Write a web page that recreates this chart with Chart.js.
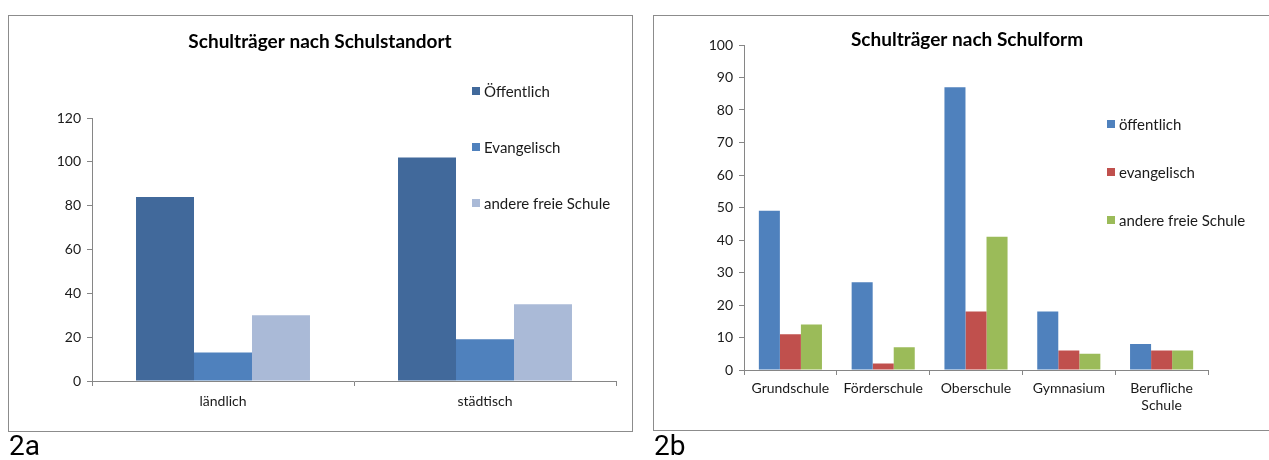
<!DOCTYPE html>
<html lang="de">
<head>
<meta charset="utf-8">
<title>Schulträger</title>
<script src="https://cdn.jsdelivr.net/npm/chart.js@4/dist/chart.umd.min.js"></script>
<style>
  html, body { margin: 0; padding: 0; background: #fff; overflow: hidden; }
  body { width: 1269px; height: 460px; position: relative; font-family: Lato, "Open Sans", sans-serif; }
  .panel { position: absolute; border: 1px solid #8c8c8c; background: #fff; }
  #panelA { left: 8px; top: 15px; width: 623px; height: 415px; }
  #panelB { left: 653px; top: 15px; width: 640px; height: 414px; }
  .panel canvas { position: absolute; left: 0; top: 0; }
  .tag { position: absolute; top: 430px; font-family: Roboto, sans-serif; font-size: 28px; color: #000; line-height: 32px; }
  #tagA { left: 9px; }
  #tagB { left: 654px; }
</style>
</head>
<body>
<div class="panel" id="panelA"><canvas id="chartA" width="623" height="415"></canvas></div>
<div class="panel" id="panelB"><canvas id="chartB" width="615" height="414"></canvas></div>
<div class="tag" id="tagA">2a</div>
<div class="tag" id="tagB">2b</div>
<script>
// Schulträger nach Schulstandort
const standortKategorien = ['ländlich', 'städtisch'];
const standortOeffentlich = [84, 102];
const standortEvangelisch = [13, 19];
const standortAndere = [30, 35];
const standortTicks = [0, 20, 40, 60, 80, 100, 120];

// Schulträger nach Schulform
const formKategorien = ['Grundschule', 'Förderschule', 'Oberschule', 'Gymnasium', ['Berufliche', 'Schule']];
const formOeffentlich = [49, 27, 87, 18, 8];
const formEvangelisch = [11, 2, 18, 6, 6];
const formAndere = [14, 7, 41, 5, 6];
const formTicks = [0, 10, 20, 30, 40, 50, 60, 70, 80, 90, 100];

const FONT = 'Lato, "Open Sans", sans-serif';
const AXIS = '#868686';
const TEXT = '#1a1a1a';

// Title and legend drawn on top of the plot, like an office chart overlay
const overlayPlugin = {
  id: 'overlay',
  afterDraw(chart, args, opts) {
    const ctx = chart.ctx;
    ctx.save();
    ctx.fillStyle = '#000';
    ctx.font = 'bold ' + opts.titleSize + 'px ' + FONT;
    ctx.textAlign = 'center';
    ctx.textBaseline = 'middle';
    ctx.fillText(opts.title, opts.titleX, opts.titleY);
    ctx.font = opts.legendSize + 'px ' + FONT;
    ctx.textAlign = 'left';
    chart.data.datasets.forEach((ds, i) => {
      const y = opts.legendY + i * opts.legendGap;
      ctx.fillStyle = ds.backgroundColor;
      ctx.fillRect(opts.legendX, y - 4, 8, 8);
      ctx.fillStyle = TEXT;
      ctx.fillText(ds.label, opts.legendX + 12, y + 1);
    });
    ctx.restore();
  }
};

function axisOptions(tickValues, yWidth, xHeight, xPad) {
  return {
    x: {
      grid: { display: true, drawOnChartArea: false, drawTicks: true, tickLength: 5, color: AXIS, offset: true },
      border: { display: true, color: AXIS, width: 1 },
      ticks: { color: TEXT, font: { family: FONT, size: 14 }, padding: xPad, maxRotation: 0, autoSkip: false },
      afterFit: s => { s.height = xHeight; }
    },
    y: {
      min: tickValues[0],
      max: tickValues[tickValues.length - 1],
      afterBuildTicks: s => { s.ticks = tickValues.map(v => ({ value: v })); },
      grid: { display: true, drawOnChartArea: false, drawTicks: true, tickLength: 5, color: AXIS },
      border: { display: true, color: AXIS, width: 1 },
      ticks: { color: TEXT, font: { family: FONT, size: 14 }, padding: 6 },
      afterFit: s => { s.width = yWidth; }
    }
  };
}

new Chart(document.getElementById('chartA'), {
  type: 'bar',
  data: {
    labels: standortKategorien,
    datasets: [
      { label: 'Öffentlich', data: standortOeffentlich, backgroundColor: '#41699b' },
      { label: 'Evangelisch', data: standortEvangelisch, backgroundColor: '#4f81bd' },
      { label: 'andere freie Schule', data: standortAndere, backgroundColor: '#aabad7' }
    ]
  },
  options: {
    responsive: false,
    animation: false,
    events: [],
    layout: { padding: { left: 0, top: 102, right: 16, bottom: 0 } },
    datasets: { bar: { categoryPercentage: 0.664, barPercentage: 1 } },
    plugins: {
      legend: { display: false },
      tooltip: { enabled: false },
      overlay: { title: 'Schulträger nach Schulstandort', titleX: 311, titleY: 26, titleSize: 19,
                 legendX: 463, legendY: 75, legendGap: 56, legendSize: 15 }
    },
    scales: axisOptions(standortTicks, 83, 50, 7)
  },
  plugins: [overlayPlugin]
});

new Chart(document.getElementById('chartB'), {
  type: 'bar',
  data: {
    labels: formKategorien,
    datasets: [
      { label: 'öffentlich', data: formOeffentlich, backgroundColor: '#4f81bd' },
      { label: 'evangelisch', data: formEvangelisch, backgroundColor: '#c0504d' },
      { label: 'andere freie Schule', data: formAndere, backgroundColor: '#9bbb59' }
    ]
  },
  options: {
    responsive: false,
    animation: false,
    events: [],
    layout: { padding: { left: 0, top: 29, right: 61, bottom: 0 } },
    datasets: { bar: { categoryPercentage: 0.68, barPercentage: 1 } },
    plugins: {
      legend: { display: false },
      tooltip: { enabled: false },
      overlay: { title: 'Schulträger nach Schulform', titleX: 313, titleY: 24, titleSize: 19,
                 legendX: 453, legendY: 108, legendGap: 48, legendSize: 15 }
    },
    scales: axisOptions(formTicks, 90, 60, 5)
  },
  plugins: [overlayPlugin]
});
</script>
</body>
</html>
